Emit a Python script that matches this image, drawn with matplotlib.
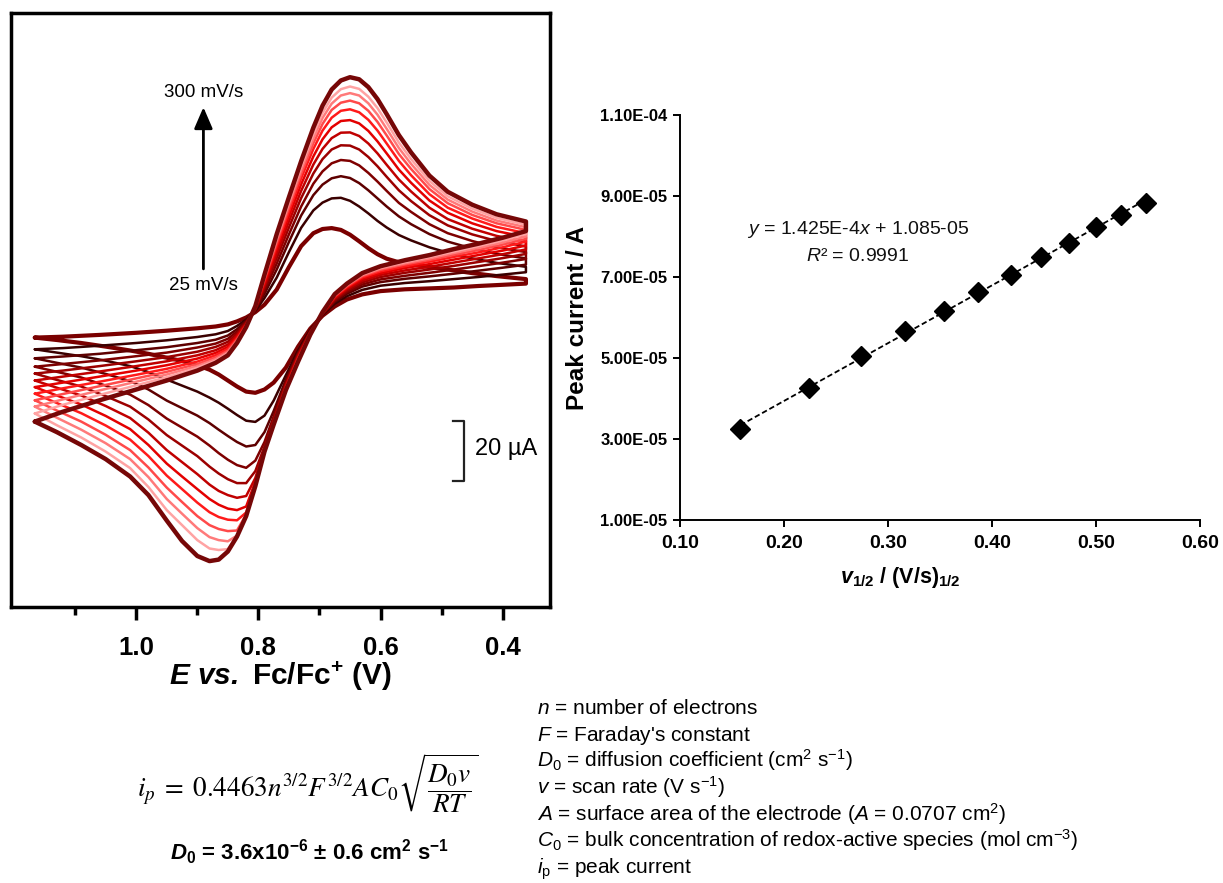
import matplotlib
matplotlib.use('Agg')
import numpy as np
from matplotlib import pyplot as plt
from matplotlib.ticker import FixedLocator, FormatStrFormatter

plt.rcParams['font.family'] = ['Liberation Sans', 'DejaVu Sans']
plt.rcParams['mathtext.fontset'] = 'custom'
plt.rcParams['mathtext.rm'] = 'Liberation Sans'
plt.rcParams['mathtext.it'] = 'Liberation Sans:italic'
plt.rcParams['mathtext.bf'] = 'Liberation Sans:bold'
plt.rcParams['mathtext.bfit'] = 'Liberation Sans:italic:bold'

# scan rates (mV/s)
scan_rates = [25, 50, 75, 100, 125, 150, 175, 200, 225, 250, 275, 300]

# potentials (V vs Fc/Fc+) of the forward (upper) and return (lower) sweeps
e_up = [1.166, 1.12, 1.06, 1.00, 0.95, 0.90, 0.87, 0.85, 0.835, 0.82, 0.805,
        0.79, 0.77, 0.75, 0.73, 0.71, 0.695, 0.68, 0.665, 0.65, 0.635, 0.62,
        0.605, 0.59, 0.57, 0.55, 0.52, 0.49, 0.45, 0.41, 0.362]
e_down = [0.362, 0.40, 0.44, 0.48, 0.52, 0.56, 0.60, 0.63, 0.655, 0.675,
          0.695, 0.715, 0.735, 0.755, 0.775, 0.79, 0.805, 0.82, 0.835, 0.85,
          0.865, 0.88, 0.90, 0.925, 0.95, 0.98, 1.01, 1.05, 1.09, 1.13, 1.166]

# current (uA) on the upper branch, one row per scan rate
i_up = [
    [-2.5, -2.2, -1.6, -0.9, -0.2, 0.6, 1.2, 1.9, 2.9, 4.2, 6.0, 8.5, 13.5, 21.0, 28.0, 32.3, 33.7, 34.0, 33.4, 31.8, 29.6, 27.3, 25.3, 23.8, 22.6, 21.9, 21.0, 20.2, 19.0, 18.0, 17.0],
    [-6.4, -6.0, -5.2, -4.3, -3.4, -2.3, -1.4, -0.3, 1.4, 3.5, 6.4, 10.7, 17.5, 26.0, 34.1, 39.9, 42.5, 43.9, 44.1, 43.1, 41.2, 38.9, 36.4, 34.2, 31.7, 29.9, 27.6, 25.8, 23.9, 22.4, 21.1],
    [-9.4, -8.8, -7.9, -6.7, -5.7, -4.3, -3.2, -1.8, 0.3, 3.1, 6.7, 12.1, 20.2, 29.4, 38.2, 45.0, 48.5, 50.6, 51.3, 50.7, 49.0, 46.6, 43.9, 41.2, 37.9, 35.3, 32.0, 29.5, 27.2, 25.4, 23.9],
    [-12.2, -11.3, -10.1, -8.7, -7.5, -5.8, -4.5, -2.9, -0.5, 2.7, 6.9, 13.2, 22.2, 31.9, 41.2, 48.8, 52.9, 55.6, 56.7, 56.4, 54.9, 52.4, 49.5, 46.4, 42.4, 39.4, 35.3, 32.3, 29.7, 27.6, 26.0],
    [-14.5, -13.5, -12.0, -10.4, -9.0, -7.2, -5.6, -3.9, -1.2, 2.4, 7.1, 14.2, 24.0, 34.2, 44.0, 52.2, 57.0, 60.2, 61.6, 61.5, 60.2, 57.7, 54.6, 51.1, 46.6, 43.0, 38.3, 34.9, 31.9, 29.7, 27.9],
    [-16.8, -15.5, -13.8, -12.0, -10.4, -8.4, -6.7, -4.8, -1.8, 2.1, 7.3, 15.0, 25.5, 36.2, 46.4, 55.2, 60.4, 64.0, 65.8, 65.9, 64.7, 62.2, 58.9, 55.1, 50.2, 46.2, 40.8, 37.0, 33.8, 31.4, 29.5],
    [-19.0, -17.5, -15.5, -13.5, -11.7, -9.5, -7.6, -5.6, -2.3, 1.9, 7.5, 15.8, 27.0, 38.0, 48.6, 57.9, 63.6, 67.6, 69.7, 70.0, 68.9, 66.4, 62.9, 58.9, 53.5, 49.1, 43.2, 39.1, 35.6, 33.0, 31.0],
    [-21.2, -19.4, -17.2, -14.9, -12.9, -10.5, -8.4, -6.3, -2.8, 1.6, 7.6, 16.5, 28.2, 39.6, 50.6, 60.4, 66.5, 70.8, 73.1, 73.6, 72.6, 70.1, 66.5, 62.2, 56.4, 51.6, 45.3, 40.8, 37.2, 34.4, 32.3],
    [-23.4, -21.3, -18.7, -16.1, -13.9, -11.3, -9.1, -6.9, -3.2, 1.5, 7.7, 17.0, 29.3, 40.9, 52.1, 62.3, 68.7, 73.4, 75.8, 76.5, 75.6, 73.1, 69.4, 64.9, 58.7, 53.7, 47.0, 42.3, 38.4, 35.6, 33.4],
    [-25.5, -23.1, -20.1, -17.2, -14.8, -12.0, -9.7, -7.4, -3.6, 1.3, 7.8, 17.5, 30.1, 42.0, 53.4, 63.9, 70.7, 75.5, 78.2, 79.0, 78.2, 75.6, 71.8, 67.1, 60.7, 55.4, 48.4, 43.5, 39.5, 36.5, 34.3],
    [-27.8, -24.9, -21.6, -18.4, -15.7, -12.6, -10.2, -7.8, -3.9, 1.2, 7.9, 17.9, 30.9, 42.9, 54.6, 65.4, 72.4, 77.5, 80.3, 81.2, 80.4, 77.8, 74.0, 69.2, 62.5, 57.0, 49.7, 44.6, 40.5, 37.4, 35.1],
    [-30.5, -27.2, -23.4, -19.8, -16.8, -13.5, -10.9, -8.4, -4.3, 1.0, 8.0, 18.5, 32.0, 44.3, 56.3, 67.5, 74.8, 80.2, 83.2, 84.3, 83.6, 81.0, 77.0, 72.0, 65.0, 59.2, 51.5, 46.1, 41.8, 38.6, 36.2],
]

# current (uA) on the lower branch, one row per scan rate
i_down = [
    [15.5, 15.1, 14.7, 14.2, 13.9, 13.6, 13.0, 11.9, 10.2, 7.9, 4.8, 0.5, -5.5, -12.5, -17.5, -19.8, -20.9, -20.5, -18.8, -16.8, -14.8, -13.2, -11.7, -10.3, -9.2, -7.9, -6.8, -5.5, -4.3, -3.3, -2.5],
    [19.3, 18.5, 17.7, 17.0, 16.3, 15.7, 14.8, 13.4, 11.3, 8.8, 5.1, 0.1, -6.8, -15.0, -23.5, -28.5, -30.6, -30.2, -28.3, -26.2, -24.2, -22.5, -20.5, -18.5, -16.5, -14.0, -12.0, -10.2, -8.7, -7.5, -6.4],
    [21.8, 20.8, 19.8, 18.8, 17.9, 17.1, 16.0, 14.5, 12.1, 9.4, 5.2, -0.2, -7.4, -16.5, -27.0, -34.0, -38.3, -38.8, -37.3, -35.3, -33.2, -31.0, -28.5, -26.0, -23.5, -19.8, -17.0, -14.6, -12.5, -10.9, -9.4],
    [23.7, 22.5, 21.3, 20.2, 19.1, 18.1, 16.9, 15.2, 12.7, 9.8, 5.4, -0.4, -7.9, -17.4, -28.8, -37.3, -43.5, -45.9, -45.0, -43.2, -41.0, -38.5, -35.5, -32.5, -29.5, -25.0, -21.5, -18.5, -15.8, -13.9, -12.2],
    [25.4, 24.0, 22.7, 21.4, 20.2, 19.1, 17.7, 15.9, 13.2, 10.2, 5.5, -0.6, -8.3, -18.0, -29.8, -38.8, -47.0, -51.0, -51.0, -49.7, -47.8, -45.5, -42.0, -38.5, -35.0, -29.8, -25.5, -22.0, -18.8, -16.6, -14.5],
    [26.9, 25.3, 23.9, 22.5, 21.1, 19.9, 18.4, 16.5, 13.7, 10.6, 5.6, -0.8, -8.7, -18.5, -30.4, -39.6, -49.3, -55.3, -55.9, -55.0, -53.6, -51.5, -48.0, -44.0, -40.0, -34.2, -29.3, -25.3, -21.8, -19.2, -16.8],
    [28.2, 26.5, 25.0, 23.5, 22.0, 20.7, 19.0, 17.1, 14.1, 10.9, 5.7, -1.0, -9.1, -18.9, -30.8, -40.0, -50.5, -58.8, -60.0, -59.5, -58.2, -56.3, -53.0, -48.8, -44.5, -38.3, -33.0, -28.6, -24.8, -21.8, -19.0],
    [29.5, 27.6, 25.9, 24.4, 22.8, 21.3, 19.6, 17.6, 14.4, 11.2, 5.8, -1.1, -9.4, -19.2, -31.0, -40.2, -51.2, -60.8, -63.4, -63.2, -62.3, -60.7, -57.5, -53.0, -48.5, -42.0, -36.5, -31.8, -27.7, -24.3, -21.2],
    [30.4, 28.5, 26.7, 25.1, 23.4, 21.9, 20.1, 18.0, 14.7, 11.4, 5.8, -1.2, -9.8, -19.5, -31.2, -40.3, -51.6, -61.5, -66.8, -67.0, -66.3, -65.0, -62.0, -57.3, -52.5, -45.8, -40.0, -34.9, -30.5, -26.8, -23.4],
    [31.2, 29.2, 27.4, 25.7, 23.9, 22.3, 20.5, 18.3, 15.0, 11.6, 5.9, -1.3, -10.0, -19.7, -31.3, -40.4, -51.8, -61.8, -68.5, -70.4, -70.0, -69.0, -66.0, -61.2, -56.3, -49.0, -43.0, -37.7, -33.2, -29.2, -25.5],
    [32.0, 29.9, 28.0, 26.2, 24.4, 22.7, 20.8, 18.6, 15.2, 11.8, 5.9, -1.4, -10.3, -19.9, -31.4, -40.5, -51.9, -61.9, -68.7, -73.0, -73.3, -72.8, -70.0, -65.0, -60.0, -52.3, -46.0, -40.5, -35.8, -31.7, -27.8],
    [33.0, 30.8, 28.8, 27.0, 25.0, 23.3, 21.3, 19.0, 15.5, 12.0, 6.0, -1.5, -10.5, -20.0, -31.5, -40.5, -52.0, -62.0, -68.8, -73.8, -76.5, -77.0, -75.3, -70.3, -63.5, -55.0, -48.8, -43.0, -38.3, -34.0, -30.5],
]

# Randles-Sevcik plot
sqrt_v = [0.158, 0.224, 0.274, 0.316, 0.354, 0.387, 0.418, 0.447, 0.474, 0.500, 0.524, 0.548]
peak_current = [3.25e-5, 4.25e-5, 5.04e-5, 5.67e-5, 6.17e-5, 6.64e-5,
                7.06e-5, 7.50e-5, 7.84e-5, 8.23e-5, 8.54e-5, 8.82e-5]

cv_ticks = [1.0, 0.8, 0.6, 0.4]
cv_minor = [1.1, 0.9, 0.7, 0.5]
rs_xticks = [0.10, 0.20, 0.30, 0.40, 0.50, 0.60]
rs_yticks = [1e-5, 3e-5, 5e-5, 7e-5, 9e-5, 1.1e-4]

definitions = [
    r'$\mathit{n}$ = number of electrons',
    r"$\mathit{F}$ = Faraday's constant",
    r'$\mathit{D}_0$ = diffusion coefficient (cm$^2$ s$^{-1}$)',
    r'$\mathit{v}$ = scan rate (V s$^{-1}$)',
    r'$\mathit{A}$ = surface area of the electrode ($\mathit{A}$ = 0.0707 cm$^2$)',
    r'$\mathit{C}_0$ = bulk concentration of redox-active species (mol cm$^{-3}$)',
    r'$\mathit{i}_\mathrm{p}$ = peak current',
]

colors = ['#7a0000', '#3a0000', '#5e0000', '#7e0000', '#9c0000', '#c00000',
          '#e30000', '#ff1a1a', '#ff4a4a', '#ff7a7a', '#ffa3a3', '#760707']
widths = [3.0, 1.8, 1.8, 1.8, 1.8, 1.8, 1.8, 1.8, 1.8, 1.8, 1.8, 3.2]

W, H = 1223, 883


def px(x, y):
    '''Pixel position to figure fraction.'''
    return x / W, 1 - y / H


def _plot_cv(fig):
    ax = fig.add_axes([11 / W, 1 - 607 / H, 539 / W, 594 / H])
    for k in range(len(scan_rates)):
        ax.plot(e_up + e_down, i_up[k] + i_down[k], color=colors[k],
                lw=widths[k], solid_joinstyle='round', solid_capstyle='round')
    ax.set_xlim(1.205, 0.3226)
    ax.set_ylim(-92.3, 105.7)
    ax.set_yticks([])
    ax.xaxis.set_major_locator(FixedLocator(cv_ticks))
    ax.xaxis.set_minor_locator(FixedLocator(cv_minor))
    ax.xaxis.set_major_formatter(FormatStrFormatter('%.1f'))
    ax.tick_params(axis='x', which='major', direction='out', length=9,
                   width=2.5, pad=12, labelsize=18.5)
    ax.tick_params(axis='x', which='minor', direction='out', length=6,
                   width=2.5)
    for lab in ax.get_xticklabels():
        lab.set_fontweight('bold')
    for sp in ax.spines.values():
        sp.set_linewidth(2.5)

    # scan-rate arrow
    ax.annotate('', xy=(0.890, 74.3), xytext=(0.890, 20.4),
                arrowprops=dict(arrowstyle='-|>,head_length=0.65,head_width=0.28',
                                color='black', lw=2, mutation_scale=20,
                                shrinkA=0, shrinkB=0))
    ax.text(0.890, 79.3, '300 mV/s', ha='center', va='center', fontsize=13.5)
    ax.text(0.890, 14.9, '25 mV/s', ha='center', va='center', fontsize=13.5)

    # 20 uA scale bar
    ax.plot([0.482, 0.464, 0.464, 0.482], [-30.3, -30.3, -50.3, -50.3],
            color='#222222', lw=1.6)
    ax.text(0.446, -39.8, '20 µA', ha='left', va='center', fontsize=17)

    fig.text(*px(280, 676), r'$\mathbfit{E\ vs.}$ Fc/Fc$^{\mathbf{+}}$ (V)',
             ha='center', va='center', fontsize=21.5, fontweight='bold')


def _plot_peaks(fig):
    ax = fig.add_axes([680 / W, 1 - 520 / H, 520 / W, 405 / H])
    slope, icept = np.polyfit(sqrt_v, peak_current, 1)
    xs = np.array([sqrt_v[0], sqrt_v[-1]])
    ax.plot(xs, slope * xs + icept, color='black', lw=1.3, ls=(0, (3, 1.6)))
    ax.plot(sqrt_v, peak_current, ls='none', marker='D', ms=10.5,
            color='black')
    ax.set_xlim(0.10, 0.60)
    ax.set_ylim(1e-5, 1.1e-4)
    ax.set_xticks(rs_xticks)
    ax.set_yticks(rs_yticks)
    ax.xaxis.set_major_formatter(FormatStrFormatter('%.2f'))
    ax.yaxis.set_major_formatter(FormatStrFormatter('%.2E'))
    ax.spines['top'].set_visible(False)
    ax.spines['right'].set_visible(False)
    for sp in ('left', 'bottom'):
        ax.spines[sp].set_linewidth(1.4)
    ax.tick_params(axis='x', direction='out', length=5, width=1.4, pad=6,
                   labelsize=14)
    ax.tick_params(axis='y', direction='out', length=5, width=1.4, pad=4,
                   labelsize=12)
    for lab in ax.get_xticklabels() + ax.get_yticklabels():
        lab.set_fontweight('bold')

    fig.text(*px(858, 229), r'$\mathit{y}$ = 1.425E-4$\mathit{x}$ + 1.085-05',
             ha='center', va='center', fontsize=14, color='#111111')
    fig.text(*px(858, 256), r'$\mathit{R}$² = 0.9991',
             ha='center', va='center', fontsize=14, color='#111111')
    fig.text(*px(577, 318), 'Peak current / A', rotation=90, ha='center',
             va='center', fontsize=17.5, fontweight='bold')
    fig.text(*px(900, 578),
             r'$\mathbfit{v}_{\mathbf{1/2}}$ / (V/s)$_{\mathbf{1/2}}$',
             ha='center', va='center', fontsize=15.5, fontweight='bold')


def _add_notes(fig):
    fig.text(*px(308, 783),
             r'$i_p\;=\;0.4463n^{3/2}F^{3/2}AC_0\sqrt{\dfrac{D_0v}{RT}}$',
             ha='center', va='center', fontsize=19.5, math_fontfamily='stix')
    fig.text(*px(309, 852),
             r'$\mathbfit{D}_{\mathbf{0}}$ = 3.6x10$^{\mathbf{-6}}$ ± 0.6 '
             r'cm$^{\mathbf{2}}$ s$^{\mathbf{-1}}$',
             ha='center', va='center', fontsize=16, fontweight='bold')
    for i, line in enumerate(definitions):
        fig.text(*px(537, 714 + 26.6 * i), line, ha='left',
                 va='baseline', fontsize=15)


def main():
    '''main method.'''
    fig = plt.figure(figsize=(W / 100, H / 100), dpi=100)
    _plot_cv(fig)
    _plot_peaks(fig)
    _add_notes(fig)
    fig.savefig('out.png', dpi=100, facecolor='white')


if __name__ == '__main__':
    main()
